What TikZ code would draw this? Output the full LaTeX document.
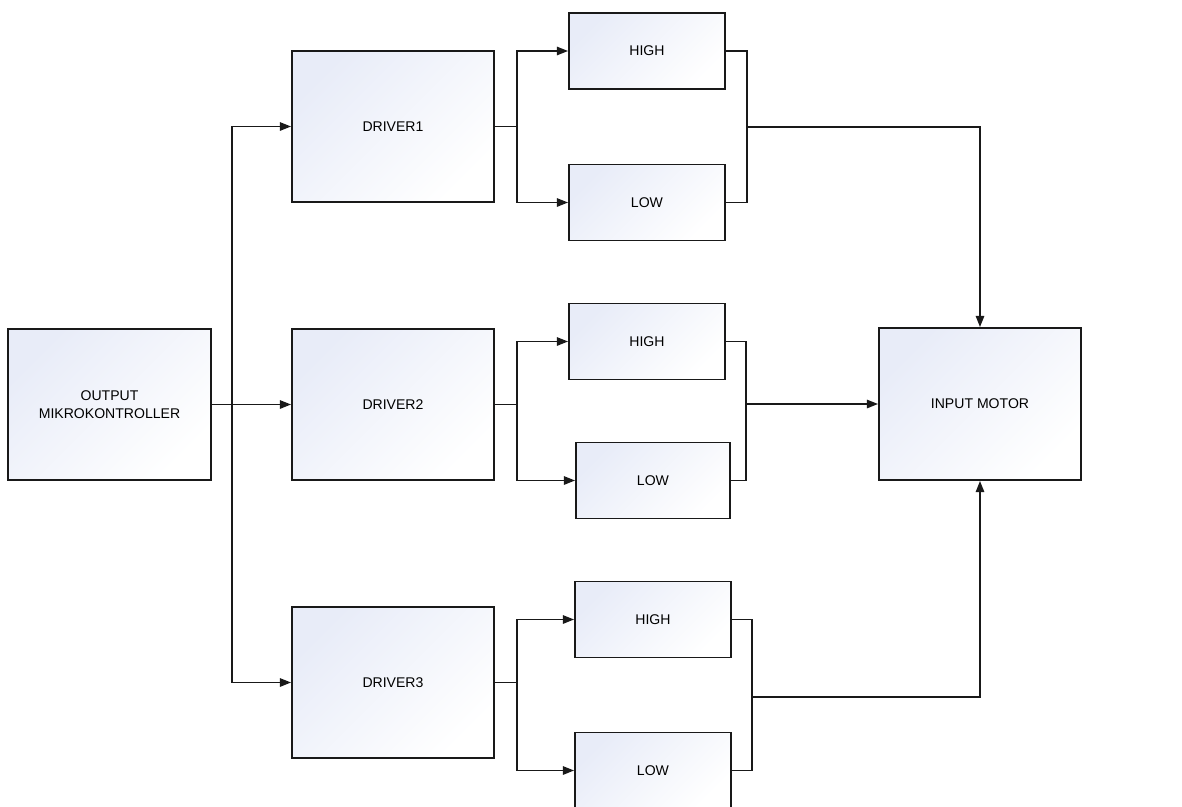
\documentclass[tikz,border=0pt]{standalone}
\usepackage{fontspec}
\setmainfont{Liberation Sans}
\usetikzlibrary{arrows.meta}

\definecolor{boxtint}{RGB}{232,236,248}

\tikzset{
  block/.style={draw=black!90, line width=1.3pt, left color=boxtint, right color=white,
    shading angle=45, align=center, inner sep=0pt, font=\fontsize{10}{13}\selectfont},
  bigblock/.style={block, minimum width=5.05cm, minimum height=3.775cm},
  smallblock/.style={block, minimum width=3.9cm, minimum height=1.9cm},
  wire/.style={draw=black!90, line width=1.2pt},
  feed/.style={wire, -{Triangle[length=8pt,width=6pt]}}
}

\begin{document}
\begin{tikzpicture}

    \useasboundingbox (0,0) rectangle (29.55,-20.175);

    % Source block
    \node[bigblock, minimum width=5.075cm] (mcu) at (2.7375,-10.1125) {OUTPUT\\MIKROKONTROLLER};

    % Drivers
    \node[bigblock] (drv1) at (9.825,-3.1625) {DRIVER1};
    \node[bigblock] (drv2) at (9.825,-10.1125) {DRIVER2};
    \node[bigblock] (drv3) at (9.825,-17.0625) {DRIVER3};

    % High / low pairs
    \node[smallblock] (high1) at (16.175,-1.275) {HIGH};
    \node[smallblock] (low1) at (16.175,-5.0625) {LOW};
    \node[smallblock] (high2) at (16.175,-8.5375) {HIGH};
    \node[smallblock, minimum width=3.85cm] (low2) at (16.325,-12.0125) {LOW};
    \node[smallblock] (high3) at (16.325,-15.4875) {HIGH};
    \node[smallblock] (low3) at (16.325,-19.2625) {LOW};

    % Motor
    \node[bigblock, minimum height=3.8cm] (motor) at (24.5,-10.1) {INPUT MOTOR};

    % junction points
    \coordinate (fork) at (5.8,-10.1125);
    \coordinate (split1) at (12.925,-3.1625);
    \coordinate (split2) at (12.925,-10.1125);
    \coordinate (split3) at (12.925,-17.0625);
    \coordinate (merge1) at (18.675,-3.175);
    \coordinate (merge2) at (18.65,-10.1);
    \coordinate (merge3) at (18.8,-17.425);

    % mikrokontroller to drivers
    \draw[feed] (mcu.east) -- (drv2.west);
    \draw[feed] (fork) |- (drv1.west);
    \draw[feed] (fork) |- (drv3.west);

    % drivers to high/low and back together
    \foreach \i in {1,2,3} {
      \draw[wire] (drv\i.east) -- (split\i);
      \draw[feed] (split\i) |- (high\i.west);
      \draw[feed] (split\i) |- (low\i.west);
      \draw[wire] (high\i.east) -| (merge\i) |- (low\i.east);
    }

    % into the motor
    \draw[feed] (merge1) -| (motor.north);
    \draw[feed] (merge2) -- (motor.west);
    \draw[feed] (merge3) -| (motor.south);

\end{tikzpicture}
\end{document}
